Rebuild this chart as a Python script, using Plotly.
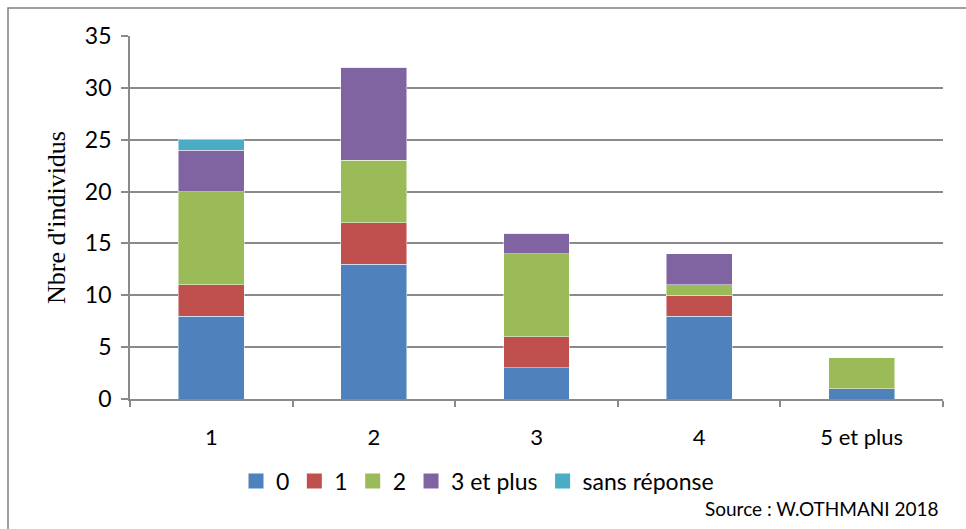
import plotly.graph_objects as go

categories = ["1", "2", "3", "4", "5 et plus"]
series_names = ["0", "1", "2", "3 et plus", "sans réponse"]
v0 = [8, 13, 3, 8, 1]
v1 = [3, 4, 3, 2, 0]
v2 = [9, 6, 8, 1, 3]
v3 = [4, 9, 2, 3, 0]
v_sr = [1, 0, 0, 0, 0]
y_ticks = [0, 5, 10, 15, 20, 25, 30, 35]
colors = ["#4F81BD", "#C0504D", "#9BBB59", "#8064A2", "#4BACC6"]

W, H = 966, 529
L, R, T, B = 130, 23, 36, 130
pw, ph = W - L - R, H - T - B

def px(x):
    return (x - L) / pw

def py(y):
    return (H - B - y) / ph

fig = go.Figure()
for name, vals, col in zip(series_names, [v0, v1, v2, v3, v_sr], colors):
    fig.add_trace(go.Bar(
        x=categories, y=vals, name=name, showlegend=False, legendgroup=name,
        marker=dict(color=col, line=dict(color="rgba(255,255,255,0.6)", width=0.8)),
    ))
# legend entries with larger square swatches
for name, col in zip(series_names, colors):
    fig.add_trace(go.Scatter(
        x=[None], y=[None], mode="markers", name=name, legendgroup=name,
        marker=dict(symbol="square", size=15, color=col),
    ))

font_main = "Lato, 'Open Sans', sans-serif"
grid_col = "#8a8a8a"
fig.update_layout(
    width=W, height=H,
    margin=dict(l=L, r=R, t=T, b=B),
    barmode="stack", bargap=0.595,
    plot_bgcolor="white", paper_bgcolor="white",
    font=dict(family=font_main, size=22, color="#000000"),
    showlegend=True,
    legend=dict(orientation="h", x=px(236), xanchor="left", y=py(481), yanchor="middle",
                font=dict(size=23), itemwidth=30, tracegroupgap=0, traceorder="normal",
                bgcolor="rgba(0,0,0,0)"),
    xaxis=dict(
        type="category", showgrid=False, showline=True, linecolor=grid_col, linewidth=1.8,
        ticks="outside", tickson="boundaries", ticklen=6, tickcolor=grid_col, tickwidth=1.8,
        ticklabelstandoff=18, tickfont=dict(size=22),
    ),
    yaxis=dict(
        range=[0, 35], tickvals=y_ticks, showgrid=True, gridcolor=grid_col, gridwidth=1.8,
        showline=True, linecolor=grid_col, linewidth=1.8, zeroline=False,
        ticks="outside", ticklen=7, tickcolor=grid_col, tickwidth=1.8,
        tickfont=dict(size=23), ticklabelstandoff=5,
        title=dict(text="Nbre d'individus", font=dict(family="'Liberation Serif', 'DejaVu Serif', serif", size=26), standoff=12),
    ),
    shapes=[dict(type="rect", xref="paper", yref="paper",
                 x0=px(8), x1=px(1000), y0=py(560), y1=py(8),
                 line=dict(color="#7f7f7f", width=1.5), fillcolor="rgba(0,0,0,0)", layer="below")],
    annotations=[dict(text="Source : W.OTHMANI 2018", xref="paper", yref="paper",
                      x=px(941), y=py(508), xanchor="right", yanchor="middle",
                      showarrow=False, font=dict(size=19, family=font_main))],
)

fig.write_html("out.html", config={"displayModeBar": False},
               post_script="document.body.style.margin='0';document.body.style.padding='0';")
